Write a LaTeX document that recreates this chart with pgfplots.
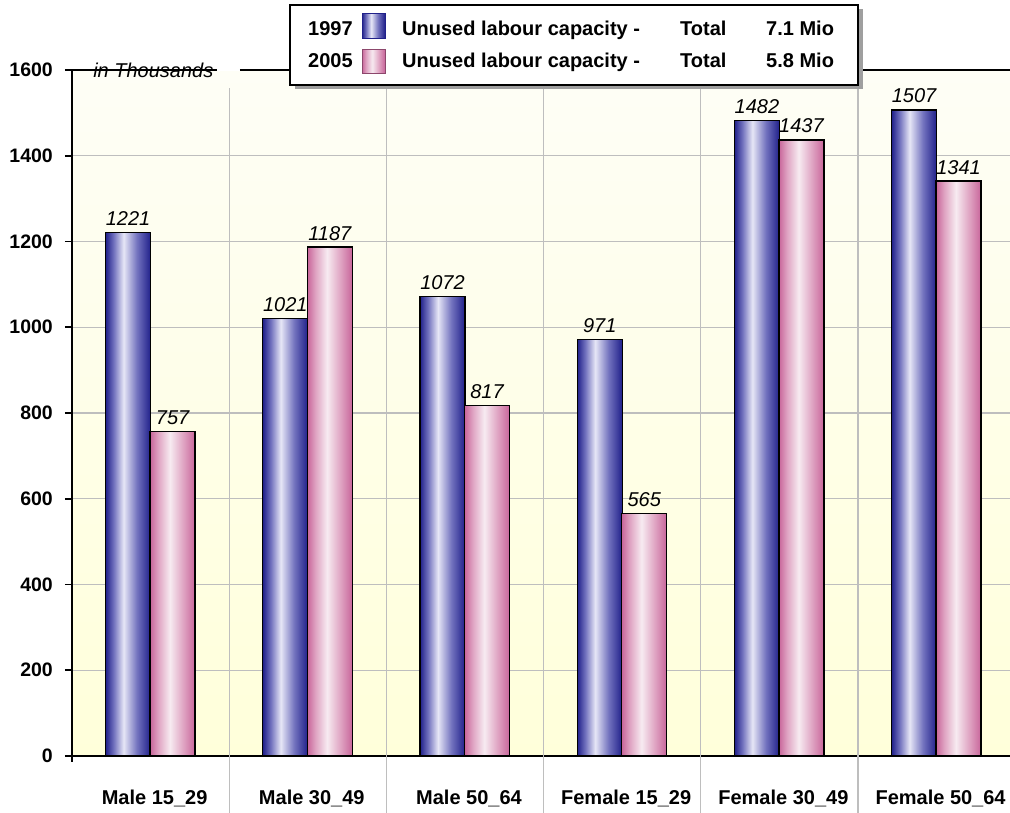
\documentclass[border=0pt]{standalone}
\usepackage{fontspec}
\setmainfont{Liberation Sans}
\usepackage{pgfplots}
\pgfplotsset{compat=1.18}
\definecolor{bluedark}{HTML}{20208A}
\definecolor{bluemid}{HTML}{7272BE}
\definecolor{bluelight}{HTML}{E6E6F6}
\definecolor{pinkdark}{HTML}{C8659A}
\definecolor{pinkmid}{HTML}{DFA3C2}
\definecolor{pinklight}{HTML}{F7EBF1}
\definecolor{gridgray}{HTML}{BEBEBE}
\definecolor{bgtop}{HTML}{FEFEF6}
\definecolor{bgbot}{HTML}{FFFFDA}
\pgfdeclarehorizontalshading{blueshade}{100bp}{color(0bp)=(bluedark); color(25bp)=(bluedark); color(34bp)=(bluemid); color(45bp)=(bluelight); color(60bp)=(bluemid); color(75bp)=(bluedark); color(100bp)=(bluedark)}
\pgfdeclarehorizontalshading{pinkshade}{100bp}{color(0bp)=(pinkdark); color(25bp)=(pinkdark); color(34bp)=(pinkmid); color(47bp)=(pinklight); color(62bp)=(pinkmid); color(75bp)=(pinkdark); color(100bp)=(pinkdark)}
\newcommand\fs{\fontsize{20}{24}\selectfont}
\begin{document}
\begin{tikzpicture}
\useasboundingbox (0,0) rectangle (1010pt,812pt);
\begin{axis}[
  at={(72pt,56pt)}, anchor=south west,
  scale only axis, width=938pt, height=686pt,
  xmin=-0.5, xmax=5.467, ymin=0, ymax=1600,
  axis x line*=bottom, axis y line*=left,
  axis line style={line width=1.6pt, -},
  ytick={0,200,...,1600},
  xtick={0,1,2,3,4,5},
  xticklabels={Male 15\_29, Male 30\_49, Male 50\_64, Female 15\_29, Female 30\_49, Female 50\_64},
  ymajorgrids, grid style={gridgray, line width=1.3pt},
  tick align=outside,
  major tick length=7pt,
  ytick style={black, line width=1.6pt},
  xtick style={draw=none},
  /pgf/number format/assume math mode=true,
  /pgf/number format/1000 sep={},
  yticklabel style={font=\bfseries\fontsize{19.5}{22}\selectfont, anchor=east, inner sep=0pt, xshift=-12pt},
  xticklabel style={font=\bfseries\fs, anchor=base, inner sep=0pt, yshift=-41pt, xshift=4pt},
  ybar, bar width=45pt,
  clip=false,
  axis background/.style={top color=bgtop, bottom color=bgbot},
  nodes near coords,
  every node near coord/.append style={font=\itshape\fs, text=black, anchor=base, inner sep=0pt, yshift=7pt},
  bluebar/.style={draw=black, line width=1.3pt, shade, shading=blueshade, bar shift=-22.5pt},
  pinkbar/.style={draw=black, line width=1.3pt, shade, shading=pinkshade, bar shift=22pt},
]
% 1997
\addplot[bluebar] coordinates {(0,1221)};
\addplot[bluebar] coordinates {(1,1021)};
\addplot[bluebar] coordinates {(2,1072)};
\addplot[bluebar] coordinates {(3,971)};
\addplot[bluebar] coordinates {(4,1482)};
\addplot[bluebar] coordinates {(5,1507)};
% 2005
\addplot[pinkbar] coordinates {(0,757)};
\addplot[pinkbar] coordinates {(1,1187)};
\addplot[pinkbar] coordinates {(2,817)};
\addplot[pinkbar] coordinates {(3,565)};
\addplot[pinkbar] coordinates {(4,1437)};
\addplot[pinkbar] coordinates {(5,1341)};
% vertical separators
\draw[gridgray, line width=1.3pt] (axis cs:0.5,-135) -- (axis cs:0.5,1558);
\draw[gridgray, line width=1.3pt] (axis cs:1.5,-135) -- (axis cs:1.5,1558);
\draw[gridgray, line width=1.3pt] (axis cs:2.5,-135) -- (axis cs:2.5,1558);
\draw[gridgray, line width=1.3pt] (axis cs:3.5,-135) -- (axis cs:3.5,1558);
\draw[gridgray, line width=1.3pt] (axis cs:4.5,-135) -- (axis cs:4.5,1558);
% top border with gap
\draw[white, line width=3pt] (axis cs:0.4224,1600) -- (axis cs:0.5687,1600);
\draw[black, line width=1.6pt] (axis cs:-0.5,1600) -- (axis cs:0.4224,1600);
\draw[black, line width=1.6pt] (axis cs:0.5687,1600) -- (axis cs:5.467,1600);
\draw[black, line width=1.6pt] (axis cs:-0.5,0) -- ([yshift=-6pt]axis cs:-0.5,0);
\node[anchor=base west, inner sep=0pt, font=\itshape\fs] at ([yshift=-7.5pt]axis cs:-0.366,1600) {in Thousands};
\end{axis}
% legend
\fill[gray!75] (295pt,723pt) rectangle (863pt,803pt);
\draw[line width=1.5pt, fill=white] (290pt,807pt) rectangle (858pt,727pt);
\node[anchor=base west, inner sep=0pt, font=\bfseries\fs] at (308pt,776pt) {1997};
\node[anchor=base west, inner sep=0pt, font=\bfseries\fs] at (308pt,744pt) {2005};
\draw[line width=1pt, draw=bluedark, shade, shading=blueshade] (362pt,773pt) rectangle (385pt,798pt);
\draw[line width=1pt, draw=pinkdark!70!black, shade, shading=pinkshade] (362pt,738pt) rectangle (385pt,762pt);
\node[anchor=base west, inner sep=0pt, font=\bfseries\fs] at (402pt,776pt) {Unused labour capacity -};
\node[anchor=base west, inner sep=0pt, font=\bfseries\fs] at (402pt,744pt) {Unused labour capacity -};
\node[anchor=base west, inner sep=0pt, font=\bfseries\fs] at (680pt,776pt) {Total};
\node[anchor=base west, inner sep=0pt, font=\bfseries\fs] at (680pt,744pt) {Total};
\node[anchor=base west, inner sep=0pt, font=\bfseries\fs] at (766pt,776pt) {7.1 Mio};
\node[anchor=base west, inner sep=0pt, font=\bfseries\fs] at (766pt,744pt) {5.8 Mio};
\end{tikzpicture}
\end{document}
